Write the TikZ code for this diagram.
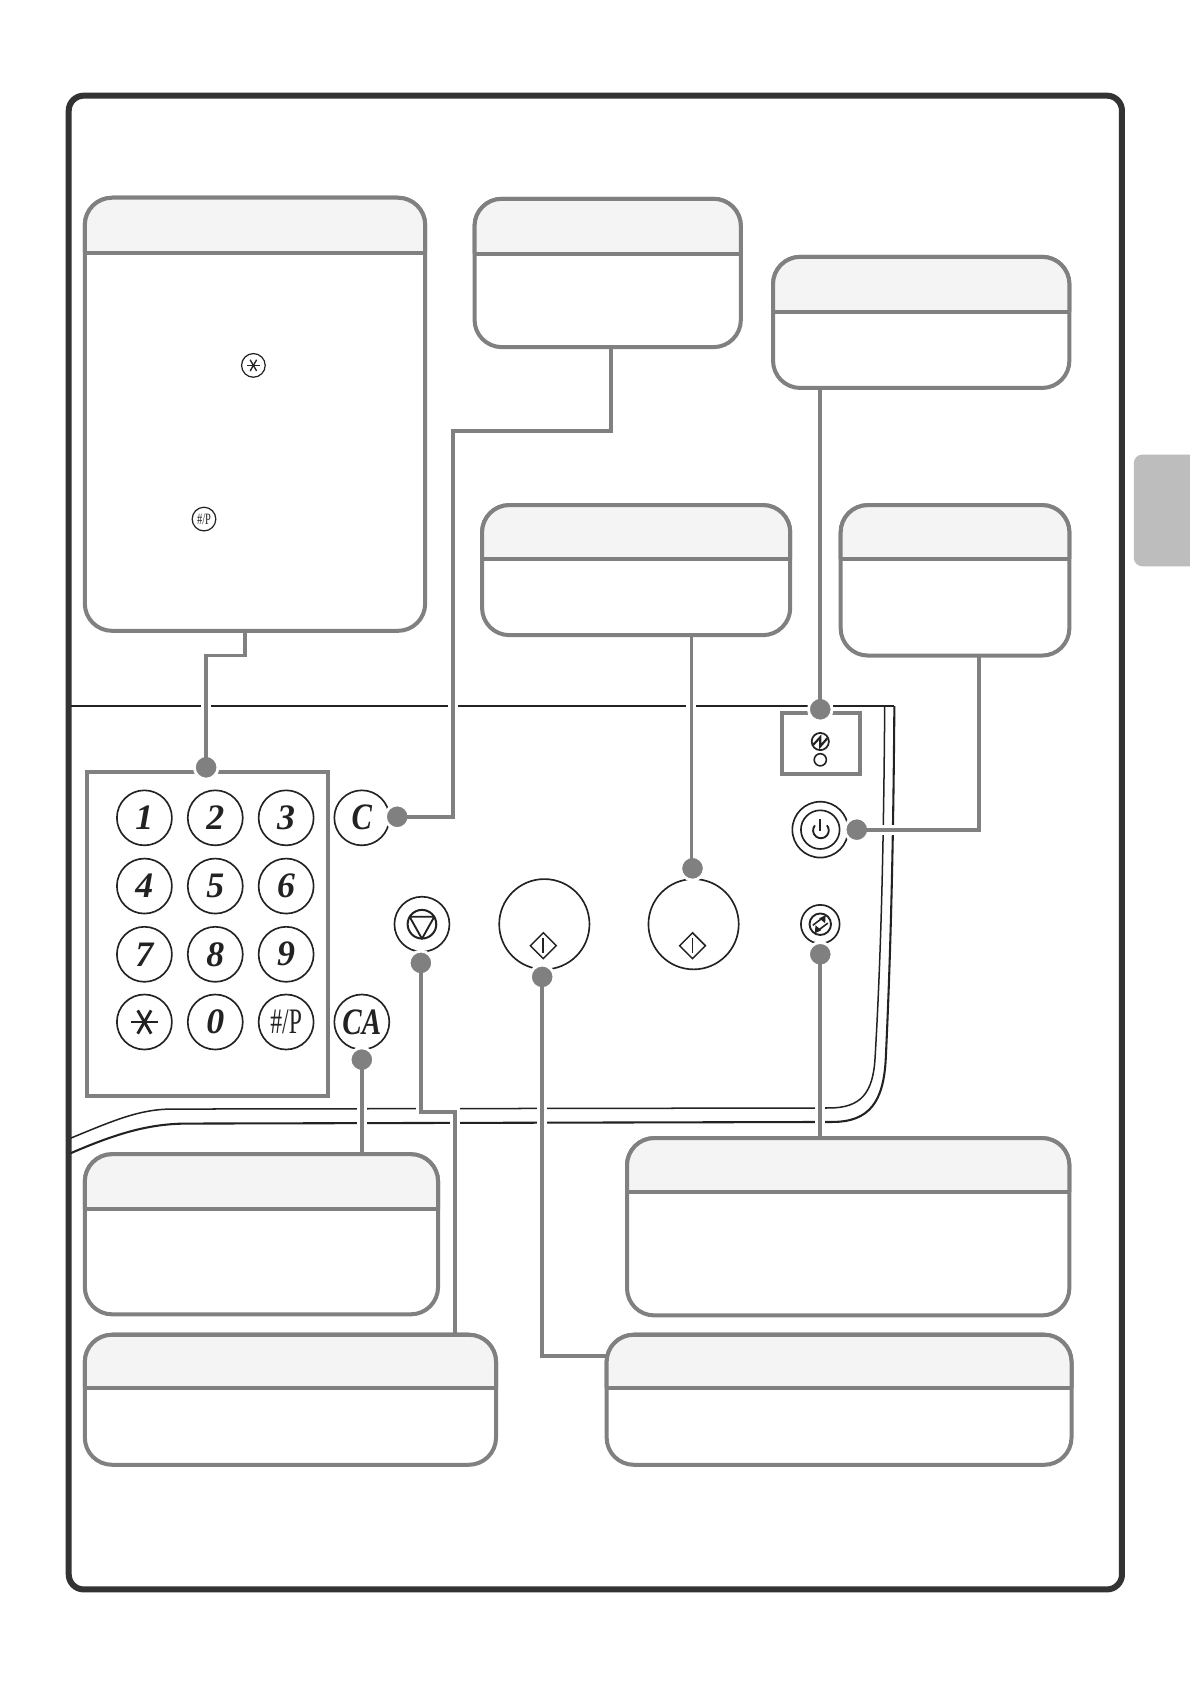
\documentclass[tikz,border=0pt]{standalone}
\usepackage{fontspec}
\setmainfont{Liberation Serif}
\usetikzlibrary{shapes.geometric}
\definecolor{calloutgray}{HTML}{808080}
\definecolor{headfill}{HTML}{F4F4F4}
\definecolor{framedark}{HTML}{333333}
\definecolor{tabgray}{HTML}{BDBDBD}
\definecolor{inkdark}{HTML}{222222}
\tikzset{
  x=0.7493pt,y=-0.75pt,
  frameline/.style={draw=framedark,line width=4.2pt,rounded corners=10.5pt},
  panelthick/.style={draw=inkdark,line width=1.45pt},
  panelthin/.style={draw=inkdark,line width=1.05pt},
  calloutbox/.style={rectangle,draw=calloutgray,fill=white,line width=2.8pt,rounded corners=19pt,inner sep=0pt,outer sep=0pt},
  calloutedge/.style={draw=calloutgray,line width=2.8pt,rounded corners=19pt},
  panelbox/.style={rectangle,draw=calloutgray,fill=white,line width=2.8pt,inner sep=0pt,outer sep=0pt},
  keycap/.style={circle,draw=inkdark,line width=1.15pt,fill=white,inner sep=0pt,outer sep=0pt,minimum size=38.4pt,text=inkdark},
  digitkey/.style={keycap,font=\fontsize{25}{25}\selectfont\bfseries\itshape},
  dotmark/.style={circle,fill=calloutgray,draw=white,line width=2pt,inner sep=0pt,outer sep=0pt,minimum size=16.5pt},
  halo/.style={draw=white,line width=7pt},
  conn/.style={draw=calloutgray,line width=2.7pt},
  glyph/.style={draw=inkdark,line width=1.3pt,line join=round},
  thinkey/.style={circle,draw=inkdark,line width=1.1pt,fill=white,inner sep=0pt,outer sep=0pt},
}
% name, left, top, right, bottom, header y
\newcommand{\callout}[6]{%
  \pgfmathsetmacro{\boxw}{(#4-#2)*0.7493}%
  \pgfmathsetmacro{\boxh}{(#5-#3)*0.75}%
  \node[calloutbox,minimum width=\boxw pt,minimum height=\boxh pt] (#1) at ({(#2+#4)/2},{(#3+#5)/2}) {};
  \fill[headfill,rounded corners=19pt] (#2,#6) -- (#2,#3) -- (#4,#3) -- (#4,#6);
  \draw[calloutedge] (#2,#6) -- (#2,#3) -- (#4,#3) -- (#4,#6);
  \draw[calloutgray,line width=2.8pt] (#2,#6) -- (#4,#6);
}
% asterisk at centre, radius
\newcommand{\starglyph}[4]{%
  \foreach \ang in {0,60,120}{\draw[inkdark,line width=#4] ({#1+#3*cos(\ang)},{#2+#3*sin(\ang)}) -- ({#1-#3*cos(\ang)},{#2-#3*sin(\ang)});}
}
\begin{document}
\begin{tikzpicture}
\useasboundingbox (0,0) rectangle (1108.2,1567);
\fill[white] (0,0) rectangle (1108.2,1567);
% side tab
\begin{scope}
\clip (0,0) rectangle (1108.2,1567);
\fill[tabgray,rounded corners=6pt] (1056,423) rectangle (1125,527);
\end{scope}
% frame
\draw[frameline] (64,89) rectangle (1045,1479);
% panel outline
\draw[panelthick] (66,657) -- (833,657);
\draw[panelthick] (833,657) .. controls (832,800) and (829,900) .. (825,985) .. controls (823,1025) and (810,1044) .. (775,1044) -- (175,1045.5) .. controls (140,1045.5) and (110,1054) .. (66,1073);
\draw[panelthin] (824,657) .. controls (823,800) and (820,900) .. (815,985) .. controls (813,1017) and (802,1031) .. (772,1031) -- (160,1032) .. controls (130,1032) and (105,1043) .. (66,1059);
% keypad
\node[panelbox,minimum width=168pt,minimum height=226.5pt] (keypad) at (193,869) {};
\node[digitkey] (k1) at (134.5,761) {1};
\node[digitkey] (k2) at (200.5,761) {2};
\node[digitkey] (k3) at (266.5,761) {3};
\node[digitkey] (k4) at (134.5,824.5) {4};
\node[digitkey] (k5) at (200.5,824.5) {5};
\node[digitkey] (k6) at (266.5,824.5) {6};
\node[digitkey] (k7) at (134.5,888) {7};
\node[digitkey] (k8) at (200.5,888) {8};
\node[digitkey] (k9) at (266.5,888) {9};
\node[keycap] (kstar) at (134.5,951) {};
\starglyph{134.5}{951}{12.5}{2pt}
\node[digitkey] (k0) at (200.5,951) {0};
\node[keycap,font=\fontsize{25}{25}\selectfont] (khash) at (266.5,951) {\scalebox{.66}[1]{\#/P}};
\node[keycap,font=\fontsize{26}{26}\selectfont\bfseries\itshape] (kc) at (337,761) {\scalebox{.82}[1]{C}};
\node[keycap,font=\fontsize{26}{26}\selectfont\bfseries\itshape] (kca) at (337,951) {\scalebox{.78}[1]{CA}};
% stop
\node[keycap] (stopkey) at (393,860) {};
\node[thinkey,minimum size=20pt,line width=1.4pt] (stopin) at (393,860) {};
\draw[glyph] (381.5,853) -- (404.5,853) -- (393,873.5) -- cycle;
% start keys
\node[keycap,minimum size=63pt] (startA) at (507,860) {};
\node[diamond,draw=inkdark,line width=1pt,inner sep=0pt,minimum size=18.5pt] (diaA) at (506,880) {};
\draw[inkdark,line width=1.6pt] (506,873) -- (506,887);
\node[keycap,minimum size=63pt] (startB) at (646,860) {};
\node[diamond,draw=inkdark,line width=1pt,inner sep=0pt,minimum size=18.5pt] (diaB) at (645,880) {};
\draw[inkdark,line width=.8pt] (645,873) -- (645,887);
% power
\node[keycap,minimum size=39pt] (powerout) at (764,772) {};
\node[thinkey,minimum size=27pt,line width=1.15pt] (powerin) at (764,772) {};
\draw[glyph] (759,768) arc[start angle=220,end angle=-40,radius=7.3];
\draw[inkdark,line width=1.5pt] (764,762.5) -- (764,773);
% reset
\node[keycap,minimum size=27pt] (resetout) at (764,860) {};
\node[thinkey,minimum size=15pt,line width=1.3pt] (resetin) at (764,860) {};
\draw[inkdark,line width=1.1pt,line join=round] (757,861) -- (765,855);
\fill[inkdark] (769,851.5) -- (768.5,859) -- (763,854.5) -- cycle;
\draw[inkdark,line width=1.1pt,line join=round] (771,859) -- (763,865);
\fill[inkdark] (759,868.5) -- (759.5,861) -- (765,865.5) -- cycle;
% LED
\node[panelbox,minimum width=54pt,minimum height=42.5pt] (ledbox) at (764.5,691.5) {};
\node[thinkey,minimum size=12pt,line width=1.2pt] (ledsym) at (764,690) {};
\draw[inkdark,line width=1.5pt] (757.5,693) -- (764,686) -- (764,694.5) -- (770.5,687);
\node[thinkey,minimum size=8.5pt] (ledlamp) at (764,707) {};
% named ends of connectors
\coordinate (pkeypad) at (192,714);
\coordinate (pc) at (370,760);
\coordinate (pstop) at (392,896);
\coordinate (pstartA) at (505,909);
\coordinate (pstartB) at (645,808);
\coordinate (preset) at (764,888);
\coordinate (ppower) at (798,772);
\coordinate (pled) at (764,660);
\coordinate (pca) at (337,986);
% white halos where connectors cross the panel lines
\path[halo] (228,587) -- (228,610) -- (192,610) -- (pkeypad);
\path[halo] (569,323) -- (569,401) -- (422,401) -- (422,760) -- (pc);
\path[halo] (764,361) -- (pled);
\path[halo] (644,591) -- (644,808);
\path[halo] (912,610) -- (912,772) -- (ppower);
\path[halo] (764,1059) -- (preset);
\path[halo] (337,1074) -- (pca);
\path[halo] (424,1242) -- (424,1035) -- (392,1035) -- (pstop);
\path[halo] (565,1262) -- (505,1262) -- (pstartA);
% dots
\node[dotmark] (dkeypad) at (pkeypad) {};
\node[dotmark] (dc) at (pc) {};
\node[dotmark] (dstop) at (pstop) {};
\node[dotmark] (dstartA) at (pstartA) {};
\node[dotmark] (dstartB) at (pstartB) {};
\node[dotmark] (dreset) at (preset) {};
\node[dotmark] (dpower) at (ppower) {};
\node[dotmark] (dled) at (pled) {};
\node[dotmark] (dca) at (pca) {};
% callout boxes
\callout{boxA}{79}{184}{396}{587}{235}
\callout{boxB}{442}{185}{690}{323}{236}
\callout{boxC}{720}{239}{996}{361}{290}
\callout{boxD}{449}{470}{736}{591}{520}
\callout{boxE}{783}{470}{996}{610}{520}
\callout{boxF}{79}{1074}{408}{1223}{1125}
\callout{boxG}{584}{1059}{996}{1224}{1109}
\callout{boxH}{79}{1242}{462}{1363}{1292}
\callout{boxI}{565}{1242}{998}{1363}{1292}
% symbols in box A
\node[thinkey,minimum size=16.5pt,line width=.85pt] (symstar) at (236,340) {};
\starglyph{236}{340}{6}{.95pt}
\node[thinkey,minimum size=16.5pt,line width=.85pt,font=\fontsize{11}{11}\selectfont,text=inkdark] (symhash) at (190,483) {\scalebox{.66}[1]{\#/P}};
% connectors
\draw[conn] (boxA.south -| 228,0) -- (228,610) -- (192,610) -- (dkeypad.center);
\draw[conn] (boxB.south -| 569,0) -- (569,401) -- (422,401) -- (422,760) -- (dc.center);
\draw[conn] (boxC.south -| dled) -- (dled.center);
\draw[conn] (boxD.south -| 644,0) -- (644,808);
\draw[conn] (boxE.south -| 912,0) -- (912,772) -- (dpower.center);
\draw[conn] (boxG.north -| dreset) -- (dreset.center);
\draw[conn] (boxF.north -| dca) -- (dca.center);
\draw[conn] (boxH.north -| 424,0) -- (424,1035) -- (392,1035) -- (dstop.center);
\draw[conn] (boxI.west |- 0,1262) -- (505,1262) -- (dstartA.center);
\end{tikzpicture}
\end{document}
